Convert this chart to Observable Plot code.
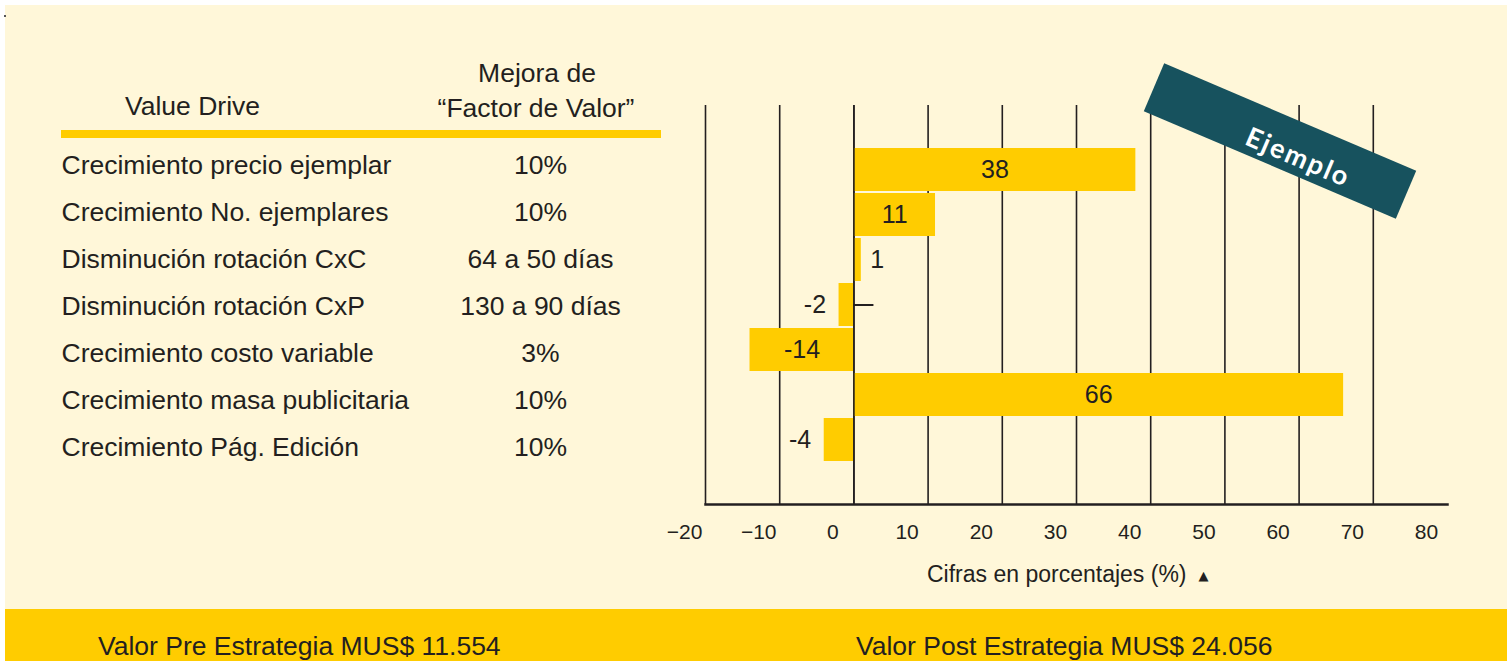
<!DOCTYPE html>
<html>
<head>
<meta charset="utf-8">
<script src="https://cdn.jsdelivr.net/npm/d3@7"></script>
<script src="https://cdn.jsdelivr.net/npm/@observablehq/plot@0.6"></script>
<style>
  html, body { margin: 0; padding: 0; background: #ffffff; }
  body { width: 1507px; height: 661px; position: relative; overflow: hidden;
         font-family: "Liberation Sans", Arial, Helvetica, sans-serif; color: #231f20; }
  .abs { position: absolute; white-space: nowrap; line-height: 1; }
  #panel { position: absolute; left: 5px; top: 5px; width: 1502px; height: 604px; background: #FFF7D9; }
  #footer { position: absolute; left: 5px; top: 609px; width: 1502px; height: 52px; background: #FFCC00; }
  #dot { position: absolute; left: 4px; top: 15px; width: 2px; height: 2px; background: #555; }
  #chart, #table { position: absolute; left: 0; top: 0; }
  #banner { position: absolute; left: 1143px; top: 114.5px; width: 274px; height: 52px;
            background: #17525E; transform: rotate(23.1deg); transform-origin: 50% 50%;
            color: #ffffff; font-family: Lato, "Open Sans", sans-serif; font-weight: 700;
            font-size: 27px; letter-spacing: 2px; line-height: 52px; text-align: center;
            box-sizing: border-box; padding-left: 46px; padding-top: 7px; }
</style>
</head>
<body>
<div id="panel"></div>
<div id="footer"></div>
<div id="dot"></div>
<div id="table"></div>
<div id="chart"></div>
<div id="banner">Ejemplo</div>
<script>
// ---- data ----
const drives = [
  "Crecimiento precio ejemplar",
  "Crecimiento No. ejemplares",
  "Disminución rotación CxC",
  "Disminución rotación CxP",
  "Crecimiento costo variable",
  "Crecimiento masa publicitaria",
  "Crecimiento Pág. Edición"
];
const mejoras = ["10%", "10%", "64 a 50 días", "130 a 90 días", "3%", "10%", "10%"];
const values = [38, 11, 1, -2, -14, 66, -4];
const axisTicks = [-20, -10, 0, 10, 20, 30, 40, 50, 60, 70, 80];
const gridTicks = [-20, -10, 0, 10, 20, 30, 40, 50, 60, 70];
const headers = { drive: "Value Drive", mejora1: "Mejora de", mejora2: "“Factor de Valor”" };
const caption = "Cifras en porcentajes (%)";
const footerTexts = ["Valor Pre Estrategia MUS$ 11.554", "Valor Post Estrategia MUS$ 24.056"];
const marcas = [{ drive: "Disminución rotación CxP", from: 0, to: 2.7 }];

const rows = drives.map((d, i) => ({ drive: d, mejora: mejoras[i], value: values[i] }));
const ink = "#231f20";
const font = "'Liberation Sans', Arial, Helvetica, sans-serif";

// ---- bar chart ----
const chart = Plot.plot({
  width: 1507,
  height: 600,
  marginLeft: 705,
  marginRight: 60,
  marginTop: 105,
  marginBottom: 96,
  style: { background: "transparent", fontFamily: font, color: ink, overflow: "visible" },
  x: { domain: [-20, 80] },
  y: { type: "band", domain: drives, range: [145.9, 463.5], paddingInner: 0.05, paddingOuter: 0.025, axis: null },
  marks: [
    Plot.ruleX(gridTicks, { stroke: ink, strokeWidth: 1.6 }),
    Plot.barX(rows, { x: "value", y: "drive", fill: "#FFCC00" }),
    Plot.ruleX([0], { stroke: ink, strokeWidth: 1.6 }),
    Plot.ruleY(marcas, { y: "drive", x1: "from", x2: "to", stroke: ink, strokeWidth: 2 }),
    Plot.frame({ anchor: "bottom", stroke: ink, strokeWidth: 2.5 }),
    Plot.axisX(axisTicks, { tickSize: 0, tickPadding: 20, dx: -21, fontSize: 21, label: null, fill: ink }),
    Plot.text(rows.filter(d => Math.abs(d.value) >= 5), {
      x: d => d.value / 2, y: "drive", text: d => String(d.value), fontSize: 25, fill: ink
    }),
    Plot.text(rows.filter(d => Math.abs(d.value) < 5 && d.value > 0), {
      x: "value", y: "drive", text: d => String(d.value), textAnchor: "start", dx: 9, fontSize: 25, fill: ink
    }),
    Plot.text(rows.filter(d => Math.abs(d.value) < 5 && d.value < 0), {
      x: "value", y: "drive", text: d => String(d.value), textAnchor: "end", dx: -13, fontSize: 25, fill: ink
    })
  ]
});
document.getElementById("chart").appendChild(chart);

// ---- table ----
const table = Plot.plot({
  width: 700,
  height: 600,
  margin: 0,
  style: { background: "transparent", fontFamily: font, color: ink, overflow: "visible" },
  x: { type: "point", domain: ["drive", "mejora"], range: [61, 540], padding: 0, axis: null },
  y: { type: "point", domain: drives, range: [163, 449], padding: 0, axis: null },
  marks: [
    Plot.text(rows, { x: () => "drive", y: "drive", text: "drive", textAnchor: "start", fontSize: 26.5, fill: ink }),
    Plot.text(rows, { x: () => "mejora", y: "drive", text: "mejora", textAnchor: "middle", fontSize: 26.5, fill: ink })
  ]
});
document.getElementById("table").appendChild(table);

// headers, rule, caption, footer (HTML text)
function addText(txt, left, baseline, size, anchor) {
  const el = document.createElement("div");
  el.className = "abs";
  el.textContent = txt;
  el.style.fontSize = size + "px";
  el.style.top = (baseline - 0.8465 * size) + "px";
  el.style.left = left + "px";
  if (anchor === "middle") el.style.transform = "translateX(-50%)";
  document.body.appendChild(el);
  return el;
}
addText(headers.drive, 192.5, 115.7, 26.5, "middle");
addText(headers.mejora1, 537, 82, 26.5, "middle");
addText(headers.mejora2, 536, 117, 26.5, "middle");

const rule = document.createElement("div");
rule.style.cssText = "position:absolute;left:61px;top:129.5px;width:600px;height:8px;background:#FFCC00;";
document.body.appendChild(rule);

const cap = addText(caption, 927, 582, 23, "start");
const tri = document.createElement("span");
tri.textContent = "▲";
tri.style.fontSize = "13px";
tri.style.fontFamily = "'DejaVu Sans', sans-serif";
tri.style.verticalAlign = "2px";
tri.style.marginLeft = "12px";
cap.appendChild(tri);

addText(footerTexts[0], 98, 655, 26.5, "start");
addText(footerTexts[1], 856, 655, 26.5, "start");
</script>
</body>
</html>
